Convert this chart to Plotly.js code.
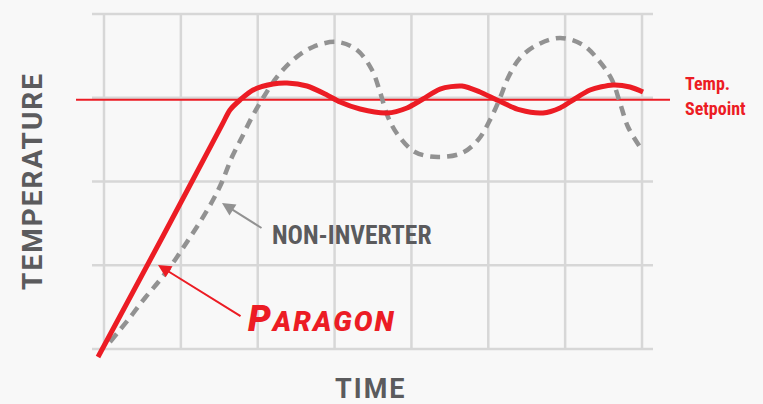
<!DOCTYPE html>
<html>
<head>
<meta charset="utf-8">
<script src="https://cdn.plot.ly/plotly-3.0.1.min.js"></script>
<style>
html,body{margin:0;padding:0;background:#f8f8f8;}
#chart{width:763px;height:404px;}
</style>
</head>
<body>
<div id="chart"></div>
<script>
// Grid positions (time units / temperature units)
var gridTimes = [0, 1, 2, 3, 4, 5, 6, 7];
var gridTemps = [0, 1, 2, 3, 4];
var gridTimeSpan = [-0.156, 7.143];
var gridTempSpan = [0, 4];

// Temperature setpoint
var setpointTemp = 2.975;
var setpointTime = [-0.364, 7.364];

// Paragon response
var paragonTime = [-0.078, 0.768, 1.535, 1.639, 1.770, 1.939, 2.199, 2.381, 2.641, 2.901, 3.071, 3.331, 3.682, 3.942, 4.150, 4.372, 4.658, 4.892, 5.113, 5.413, 5.712, 5.933, 6.102, 6.323, 6.623, 6.844, 7.013];
var paragonTemp = [-0.096, 1.349, 2.675, 2.854, 2.973, 3.092, 3.164, 3.176, 3.140, 3.033, 2.949, 2.866, 2.818, 2.878, 2.985, 3.104, 3.140, 3.069, 2.973, 2.854, 2.818, 2.878, 2.973, 3.092, 3.152, 3.128, 3.069];

// Non-inverter response
var nonInvTime = [0.078, 0.312, 0.533, 0.729, 0.924, 1.080, 1.249, 1.418, 1.535, 1.665, 1.796, 1.926, 2.069, 2.251, 2.459, 2.719, 3.032, 3.292, 3.487, 3.591, 3.695, 3.825, 4.046, 4.346, 4.658, 4.866, 5.022, 5.152, 5.256, 5.413, 5.634, 5.933, 6.232, 6.453, 6.610, 6.714, 6.818, 6.974];
var nonInvTemp = [0.084, 0.346, 0.609, 0.824, 1.063, 1.278, 1.516, 1.779, 1.994, 2.292, 2.531, 2.770, 2.997, 3.248, 3.451, 3.606, 3.666, 3.570, 3.331, 3.069, 2.770, 2.555, 2.352, 2.293, 2.340, 2.495, 2.734, 2.997, 3.236, 3.475, 3.630, 3.713, 3.630, 3.427, 3.212, 2.937, 2.651, 2.412];

// Labels
var labelNonInv = "NON-INVERTER";
var labelParagon = "ARAGON";
var labelParagonInitial = "P";
var labelSetpoint = ["Temp.", "Setpoint"];
var labelY = "TEMPERATURE";
var labelX = "TIME";

var RED = "#ec1c24";
var GRAY = "#929292";
var DARK = "#5b5b5d";
var GRID = "#d7d7d7";
var NARROW = "'Roboto Condensed', 'Liberation Sans Narrow', 'Arial Narrow', 'DejaVu Sans Condensed', sans-serif";

var shapes = [];
gridTimes.forEach(function (t) {
  shapes.push({type: "line", xref: "x", yref: "y", x0: t, x1: t, y0: gridTempSpan[0], y1: gridTempSpan[1],
    line: {color: GRID, width: 2.5}, layer: "below"});
});
gridTemps.forEach(function (v) {
  shapes.push({type: "line", xref: "x", yref: "y", x0: gridTimeSpan[0], x1: gridTimeSpan[1], y0: v, y1: v,
    line: {color: GRID, width: 2.5}, layer: "below"});
});

var traces = [
  {x: setpointTime, y: [setpointTemp, setpointTemp], mode: "lines", line: {color: RED, width: 2}, hoverinfo: "skip", showlegend: false},
  {x: nonInvTime, y: nonInvTemp, mode: "lines", line: {color: GRAY, width: 4.5, dash: "10px,7px", shape: "spline", smoothing: 1}, hoverinfo: "skip", showlegend: false},
  {x: paragonTime, y: paragonTemp, mode: "lines", line: {color: RED, width: 5, shape: "spline", smoothing: 0.8}, hoverinfo: "skip", showlegend: false}
];

var annotations = [
  // arrows
  {x: 1.535, y: 1.743, ax: 2.069, ay: 1.433, axref: "x", ayref: "y", xref: "x", yref: "y", text: "", showarrow: true,
    arrowhead: 2, arrowsize: 1.3, arrowwidth: 2, arrowcolor: GRAY, standoff: 0, startstandoff: 0},
  {x: 0.703, y: 1.003, ax: 1.796, ay: 0.382, axref: "x", ayref: "y", xref: "x", yref: "y", text: "", showarrow: true,
    arrowhead: 2, arrowsize: 1.3, arrowwidth: 2, arrowcolor: RED, standoff: 0, startstandoff: 0},
  // texts
  {x: 2.16, y: 1.36, xref: "x", yref: "y", xanchor: "left", yanchor: "middle", showarrow: false, text: labelNonInv,
    font: {family: NARROW, size: 25.5, color: DARK, weight: "bold"}},
  {x: 1.85, y: 0.36, xref: "x", yref: "y", xanchor: "left", yanchor: "middle", showarrow: false,
    text: "<span style=\"letter-spacing:2px\"><span style=\"font-size:36px\">" + labelParagonInitial + "</span>" + labelParagon + "</span>",
    font: {family: "Roboto, sans-serif", size: 28, color: RED, weight: 900, style: "italic"}},
  {x: 7.53, y: 3.17, xref: "x", yref: "y", xanchor: "left", yanchor: "middle", align: "left", showarrow: false,
    text: labelSetpoint[0], font: {family: NARROW, size: 18, color: RED, weight: "bold"}},
  {x: 7.53, y: 2.87, xref: "x", yref: "y", xanchor: "left", yanchor: "middle", align: "left", showarrow: false,
    text: labelSetpoint[1], font: {family: NARROW, size: 18, color: RED, weight: "bold"}},
  {x: -0.924, y: 2.006, xref: "x", yref: "y", xanchor: "center", yanchor: "middle", textangle: -90, showarrow: false,
    text: "<span style=\"letter-spacing:2px\">" + labelY + "</span>", font: {family: "Roboto, sans-serif", size: 28, color: DARK, weight: "bold"}},
  {x: 3.461, y: -0.48, xref: "x", yref: "y", xanchor: "center", yanchor: "middle", showarrow: false,
    text: "<span style=\"letter-spacing:2px\">" + labelX + "</span>", font: {family: "Roboto, sans-serif", size: 27, color: DARK, weight: "bold"}}
];

var layout = {
  width: 763, height: 404,
  margin: {l: 0, r: 0, t: 0, b: 0, pad: 0},
  paper_bgcolor: "#f8f8f8",
  plot_bgcolor: "#f8f8f8",
  xaxis: {range: [-1.353, 8.574], visible: false, fixedrange: true},
  yaxis: {range: [-0.657, 4.167], visible: false, fixedrange: true},
  shapes: shapes,
  annotations: annotations,
  showlegend: false
};

Plotly.newPlot("chart", traces, layout, {displayModeBar: false, staticPlot: true});
</script>
</body>
</html>
